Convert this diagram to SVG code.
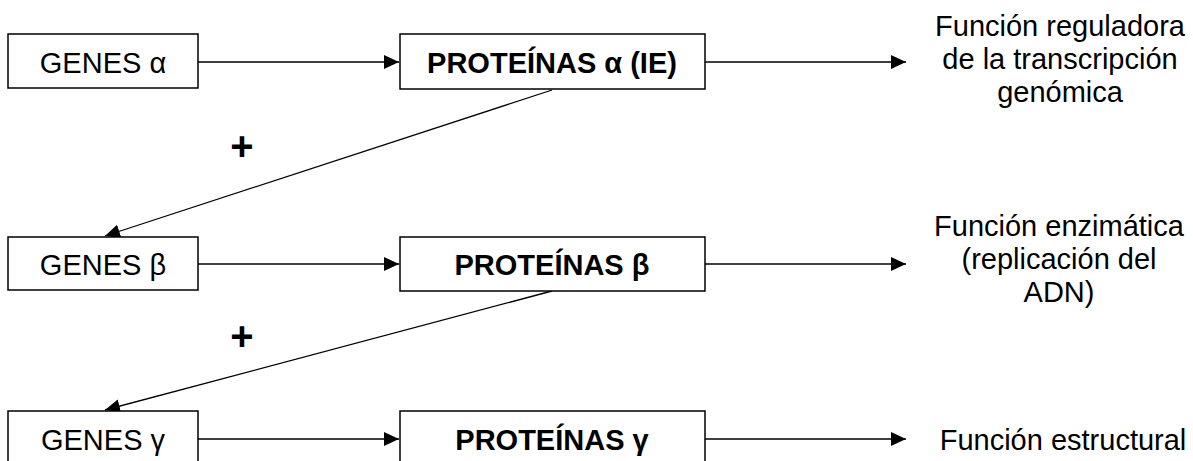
<svg xmlns="http://www.w3.org/2000/svg" width="1193" height="461" viewBox="0 0 1193 461">
<style>
  .box { fill: #ffffff; stroke: #000000; stroke-width: 1.5; }
  .lbl { font-family: "Liberation Sans", Arial, sans-serif; font-size: 29px; fill: #000000; text-anchor: middle; }
  .bold { font-weight: bold; }
  .conn { stroke: #000000; stroke-width: 1.3; fill: none; marker-end: url(#ah); }
  .plus { font-family: "Liberation Sans", Arial, sans-serif; font-size: 40px; font-weight: bold; fill: #000000; text-anchor: middle; }
</style>
<defs>
  <marker id="ah" markerUnits="userSpaceOnUse" markerWidth="16" markerHeight="14" refX="15" refY="7" orient="auto">
    <path d="M0,0 L15,7 L0,14 z" fill="#000000"/>
  </marker>
</defs>
<rect width="1193" height="461" fill="#ffffff"/>

<g id="connectors">
  <line class="conn" x1="198" y1="62" x2="399" y2="62"/>
  <line class="conn" x1="705" y1="62" x2="906" y2="62"/>
  <line class="conn" x1="198" y1="264" x2="399" y2="264"/>
  <line class="conn" x1="705" y1="264" x2="906" y2="264"/>
  <line class="conn" x1="198" y1="439" x2="399" y2="439"/>
  <line class="conn" x1="705" y1="439" x2="906" y2="439"/>
  <line class="conn" x1="552" y1="90" x2="105" y2="236"/>
  <line class="conn" x1="552" y1="291" x2="105" y2="410"/>
</g>

<g id="genes-alpha">
  <rect class="box" x="8" y="34" width="190" height="54"/>
  <text class="lbl" x="103" y="72.5">GENES α</text>
</g>
<g id="proteinas-alpha">
  <rect class="box" x="400" y="34" width="305" height="55"/>
  <text class="lbl bold" x="552" y="72.5">PROTEÍNAS α (IE)</text>
</g>
<g id="funcion-reguladora">
  <text class="lbl" x="1060" y="36">Función reguladora</text>
  <text class="lbl" x="1060" y="69">de la transcripción</text>
  <text class="lbl" x="1060" y="102">genómica</text>
</g>

<g id="plus-1"><text class="plus" x="242" y="160">+</text></g>

<g id="genes-beta">
  <rect class="box" x="8" y="237" width="190" height="53"/>
  <text class="lbl" x="103" y="275">GENES β</text>
</g>
<g id="proteinas-beta">
  <rect class="box" x="400" y="237" width="305" height="54"/>
  <text class="lbl bold" x="552" y="275">PROTEÍNAS β</text>
</g>
<g id="funcion-enzimatica">
  <text class="lbl" x="1059" y="236">Función enzimática</text>
  <text class="lbl" x="1059" y="269">(replicación del</text>
  <text class="lbl" x="1059" y="302">ADN)</text>
</g>

<g id="plus-2"><text class="plus" x="242" y="350">+</text></g>

<g id="genes-gamma">
  <rect class="box" x="8" y="411" width="190" height="60"/>
  <text class="lbl" x="103" y="449.5">GENES γ</text>
</g>
<g id="proteinas-gamma">
  <rect class="box" x="400" y="411" width="305" height="60"/>
  <text class="lbl bold" x="552" y="449.5">PROTEÍNAS γ</text>
</g>
<g id="funcion-estructural">
  <text class="lbl" x="1063" y="450">Función estructural</text>
</g>
</svg>
